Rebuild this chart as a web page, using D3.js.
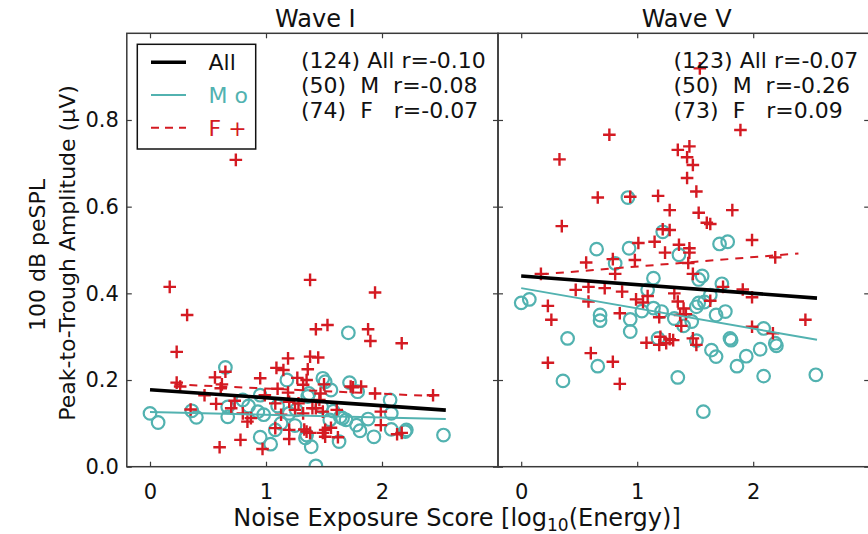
<!DOCTYPE html>
<html>
<head>
<meta charset="utf-8">
<script src="https://cdn.jsdelivr.net/npm/d3@7"></script>
<style>
  html, body { margin: 0; padding: 0; background: #fff; }
  svg { display: block; font-family: "DejaVu Sans", sans-serif; }
  text { white-space: pre; }
</style>
</head>
<body>
<svg id="chart" width="868" height="534"></svg>
<script>
// ---- data --------------------------------------------------------------
const panelTitles = ["Wave I", "Wave V"];
const xTicks = [0, 1, 2];
const yTicks = [0.0, 0.2, 0.4, 0.6, 0.8];
const xDomain = [-0.2, 3.0];
const yDomain = [0.0, 1.0];

// Wave I, male listeners [score, amplitude]
const waveIMale = [
  [0.00,0.123],[0.07,0.102],[0.36,0.129],[0.40,0.114],[0.65,0.229],[0.67,0.138],
  [0.67,0.115],[0.80,0.154],[0.93,0.127],[0.95,0.165],[0.95,0.068],[1.04,0.052],
  [1.08,0.085],[1.13,0.100],[1.18,0.200],[1.20,0.123],[1.36,0.162],[1.35,0.073],
  [1.39,0.046],[1.43,0.002],[1.49,0.204],[1.51,0.196],[1.56,0.177],[1.55,0.108],
  [1.63,0.058],[1.66,0.112],[1.69,0.108],[1.71,0.309],[1.72,0.194],[1.79,0.173],
  [1.78,0.096],[1.81,0.083],[1.93,0.069],[2.07,0.154],[2.08,0.123],[2.08,0.086],
  [2.20,0.081],[2.21,0.085],[2.53,0.073],[1.48,0.138],[1.26,0.131],[1.64,0.115],
  [1.34,0.066],[1.10,0.140],[1.37,0.169],[0.98,0.120],[1.58,0.128],[1.25,0.095],
  [0.85,0.140],[1.88,0.110]
];
// Wave I, female listeners
const waveIFemale = [
  [0.17,0.415],[1.38,0.431],[1.94,0.402],[0.32,0.350],[1.43,0.317],[1.53,0.327],
  [1.88,0.317],[1.90,0.290],[2.17,0.285],[0.23,0.265],[1.19,0.250],[1.38,0.254],
  [1.45,0.252],[1.09,0.228],[1.15,0.223],[1.36,0.225],[0.65,0.219],[0.56,0.206],
  [0.95,0.204],[1.35,0.200],[0.23,0.194],[0.26,0.185],[0.61,0.181],[1.32,0.189],
  [1.82,0.185],[1.73,0.185],[0.47,0.165],[0.99,0.165],[1.19,0.171],[1.47,0.169],
  [1.94,0.169],[2.44,0.165],[0.73,0.152],[0.57,0.145],[1.08,0.146],[1.28,0.146],
  [1.46,0.154],[0.35,0.132],[1.25,0.131],[1.43,0.135],[1.61,0.131],[1.99,0.127],
  [0.80,0.123],[0.87,0.112],[1.32,0.123],[1.49,0.127],[0.84,0.104],[1.08,0.089],
  [1.20,0.085],[1.35,0.081],[1.38,0.078],[1.51,0.085],[1.51,0.069],[1.99,0.096],
  [2.17,0.078],[0.78,0.062],[1.20,0.064],[1.62,0.068],[0.60,0.045],[0.97,0.041],
  [0.74,0.708],[1.33,0.086],[1.49,0.078],[1.40,0.135],[1.13,0.120],[0.62,0.190],
  [1.10,0.180],[1.27,0.205],[1.56,0.090],[1.50,0.190],[1.75,0.183],[2.13,0.075],
  [0.70,0.135],[1.20,0.150]
];
// Wave V, male listeners
const waveVMale = [
  [0.92,0.621],[0.65,0.502],[0.93,0.504],[1.36,0.489],[1.71,0.514],[1.78,0.519],
  [1.22,0.542],[0.81,0.469],[1.14,0.435],[1.53,0.432],[1.56,0.440],[1.09,0.408],
  [1.63,0.396],[1.73,0.422],[0.00,0.378],[0.07,0.386],[0.68,0.350],[0.68,0.337],
  [0.94,0.340],[0.94,0.312],[1.04,0.359],[1.14,0.366],[1.21,0.358],[1.32,0.342],
  [1.40,0.325],[1.47,0.335],[1.51,0.369],[1.53,0.378],[1.68,0.350],[1.76,0.358],
  [0.40,0.296],[1.18,0.296],[1.51,0.291],[1.80,0.296],[1.81,0.292],[2.09,0.319],
  [2.19,0.285],[2.20,0.279],[2.06,0.271],[1.94,0.255],[1.64,0.269],[1.68,0.254],
  [1.86,0.232],[0.66,0.232],[0.36,0.198],[1.35,0.206],[2.09,0.209],[2.54,0.212],
  [1.57,0.127],[1.58,0.380]
];
// Wave V, female listeners
const waveVFemale = [
  [1.54,0.919],[1.89,0.777],[0.76,0.766],[0.33,0.709],[1.35,0.731],[1.45,0.739],
  [1.43,0.714],[1.48,0.696],[1.43,0.666],[1.51,0.635],[0.66,0.621],[0.94,0.623],
  [1.18,0.625],[1.28,0.592],[1.53,0.586],[1.60,0.563],[1.82,0.592],[0.35,0.555],
  [1.22,0.548],[1.28,0.546],[1.99,0.523],[1.01,0.516],[1.15,0.519],[1.36,0.512],
  [1.45,0.504],[1.24,0.494],[1.45,0.494],[0.56,0.471],[0.79,0.479],[0.98,0.477],
  [2.19,0.483],[0.17,0.445],[0.81,0.445],[1.48,0.445],[0.47,0.408],[0.58,0.415],
  [0.72,0.412],[0.87,0.404],[0.99,0.386],[1.09,0.394],[1.32,0.400],[1.35,0.381],
  [1.63,0.383],[1.74,0.415],[1.91,0.409],[1.99,0.391],[0.23,0.371],[0.58,0.381],
  [0.85,0.354],[1.19,0.345],[1.37,0.350],[1.42,0.352],[0.26,0.339],[2.45,0.339],
  [1.99,0.323],[2.17,0.308],[1.08,0.286],[1.19,0.281],[1.28,0.294],[1.25,0.285],
  [1.48,0.296],[1.51,0.281],[0.60,0.262],[0.23,0.240],[0.79,0.242],[0.85,0.191],
  [1.40,0.365],[1.38,0.325],[1.31,0.292],[1.05,0.379],[1.63,0.560],[1.44,0.470],
  [1.20,0.300]
];

// least-squares fits: [intercept, slope, xStart, xEnd]
const waveIFitAll    = [0.1775, -0.0184, 0.00, 2.55];
const waveIFitMale   = [0.1260, -0.0063, 0.00, 2.55];
const waveIFitFemale = [0.1925, -0.0121, 0.21, 2.44];
const waveVFitAll    = [0.4400, -0.0200, 0.00, 2.55];
const waveVFitMale   = [0.4120, -0.0467, 0.00, 2.55];
const waveVFitFemale = [0.4402,  0.0217, 0.17, 2.39];

const waveIStats = ["(124) All r=-0.10", "(50)  M  r=-0.08", "(74)  F   r=-0.07"];
const waveVStats = ["(123) All r=-0.07", "(50)  M  r=-0.26", "(73)  F   r=0.09"];

const legendLabels = ["All", "M o", "F +"];

// ---- styling -----------------------------------------------------------
const TEAL = "#52b2b0";
const RED = "#d41a22";
const SPINE = "#3a3a3a";

const svg = d3.select("#chart");
const plotTop = 33.3, plotBottom = 466.7;
const panelLefts = [126.8, 498.0];
const panelWidth = 371.2;

const y = d3.scaleLinear().domain(yDomain).range([plotBottom, plotTop]);

const panels = [
  { title: panelTitles[0], male: waveIMale, female: waveIFemale,
    fits: [waveIFitMale, waveIFitFemale, waveIFitAll], stats: waveIStats },
  { title: panelTitles[1], male: waveVMale, female: waveVFemale,
    fits: [waveVFitMale, waveVFitFemale, waveVFitAll], stats: waveVStats }
];

panels.forEach((p, i) => {
  const x0 = panelLefts[i];
  const x = d3.scaleLinear().domain(xDomain).range([x0, x0 + panelWidth]);
  const g = svg.append("g");

  // clip the plotting area
  const clipId = "clip" + i;
  svg.append("clipPath").attr("id", clipId)
    .append("rect").attr("x", x0).attr("y", plotTop)
    .attr("width", panelWidth).attr("height", plotBottom - plotTop);
  const plot = g.append("g").attr("clip-path", `url(#${clipId})`);

  // male: open circles
  plot.selectAll("circle.m").data(p.male).enter().append("circle")
    .attr("class", "m")
    .attr("cx", d => x(d[0])).attr("cy", d => y(d[1])).attr("r", 6.3)
    .attr("fill", "none").attr("stroke", TEAL).attr("stroke-width", 2.2);

  // female: plus markers
  const s = 6.3;
  plot.selectAll("path.f").data(p.female).enter().append("path")
    .attr("class", "f")
    .attr("d", d => {
      const cx = x(d[0]), cy = y(d[1]);
      return `M${cx - s},${cy}H${cx + s}M${cx},${cy - s}V${cy + s}`;
    })
    .attr("stroke", RED).attr("stroke-width", 2.4).attr("fill", "none");

  // regression lines
  const fitStyles = [
    { color: TEAL, width: 2, dash: null },
    { color: RED, width: 2, dash: "8,7" },
    { color: "#000", width: 3.6, dash: null }
  ];
  p.fits.forEach((f, k) => {
    const [b, m, xa, xb] = f;
    const st = fitStyles[k];
    plot.append("line")
      .attr("x1", x(xa)).attr("y1", y(b + m * xa))
      .attr("x2", x(xb)).attr("y2", y(b + m * xb))
      .attr("stroke", st.color).attr("stroke-width", st.width)
      .attr("stroke-dasharray", st.dash);
  });

  // axes with inward ticks on all four sides
  const tick = 5;
  const axB = d3.axisBottom(x).tickValues(xTicks).tickSize(-tick).tickPadding(17)
    .tickFormat(d3.format("d"));
  const axT = d3.axisTop(x).tickValues(xTicks).tickSize(-tick).tickFormat("");
  const axL = d3.axisLeft(y).tickValues(yTicks).tickSize(-tick).tickPadding(8)
    .tickFormat(i === 0 ? d3.format(".1f") : "");
  const axR = d3.axisRight(y).tickValues(yTicks).tickSize(-tick).tickFormat("");

  [[axB, `translate(0,${plotBottom})`], [axT, `translate(0,${plotTop})`],
   [axL, `translate(${x0},0)`], [axR, `translate(${x0 + panelWidth},0)`]]
    .forEach(([ax, tr]) => {
      const a = g.append("g").attr("transform", tr).call(ax);
      a.select(".domain").remove();
      a.selectAll(".tick line").attr("stroke", SPINE).attr("stroke-width", 1.2);
      a.selectAll(".tick text").attr("font-size", 21).attr("fill", "#111")
        .attr("font-family", "DejaVu Sans");
    });

  // frame
  g.append("rect").attr("x", x0).attr("y", plotTop)
    .attr("width", panelWidth).attr("height", plotBottom - plotTop)
    .attr("fill", "none").attr("stroke", SPINE).attr("stroke-width", 1.5);

  // title
  g.append("text").attr("x", x0 + panelWidth / 2 + 3).attr("y", 27)
    .attr("text-anchor", "middle").attr("font-size", 24).attr("fill", "#111")
    .text(p.title);

  // correlation summary
  const statX = i === 0 ? 301 : 673.5;
  p.stats.forEach((t, k) => {
    g.append("text").attr("x", statX).attr("y", 68 + k * 25)
      .attr("font-size", 22).attr("fill", "#111").text(t);
  });
});

// legend
const lg = svg.append("g");
lg.append("rect").attr("x", 137.3).attr("y", 44.3)
  .attr("width", 118.4).attr("height", 104.7)
  .attr("fill", "#fff").attr("stroke", "#111").attr("stroke-width", 1.5);
const legendStyles = [
  { color: "#000", width: 3.6, dash: null, text: "#111" },
  { color: TEAL, width: 2, dash: null, text: TEAL },
  { color: RED, width: 2, dash: "8,6", text: RED }
];
legendLabels.forEach((lab, k) => {
  const ly = 62.3 + k * 32.7;
  const st = legendStyles[k];
  lg.append("line").attr("x1", 151).attr("x2", 186).attr("y1", ly).attr("y2", ly)
    .attr("stroke", st.color).attr("stroke-width", st.width)
    .attr("stroke-dasharray", st.dash);
  lg.append("text").attr("x", 208.5).attr("y", ly + 8)
    .attr("font-size", 22).attr("fill", st.text).text(lab);
});

// axis titles
svg.append("text")
  .attr("transform", "translate(45,255) rotate(-90)")
  .attr("text-anchor", "middle").attr("font-size", 22).attr("fill", "#111")
  .text("100 dB peSPL");
svg.append("text")
  .attr("transform", "translate(75,253) rotate(-90)")
  .attr("text-anchor", "middle").attr("font-size", 22).attr("fill", "#111")
  .text("Peak-to-Trough Amplitude (μV)");

const xl = svg.append("text").attr("x", 457).attr("y", 526)
  .attr("text-anchor", "middle").attr("font-size", 24).attr("fill", "#111");
xl.append("tspan").text("Noise Exposure Score [log");
xl.append("tspan").attr("font-size", 17).attr("dy", 5).text("10");
xl.append("tspan").attr("dy", -5).text("(Energy)]");
</script>
</body>
</html>
